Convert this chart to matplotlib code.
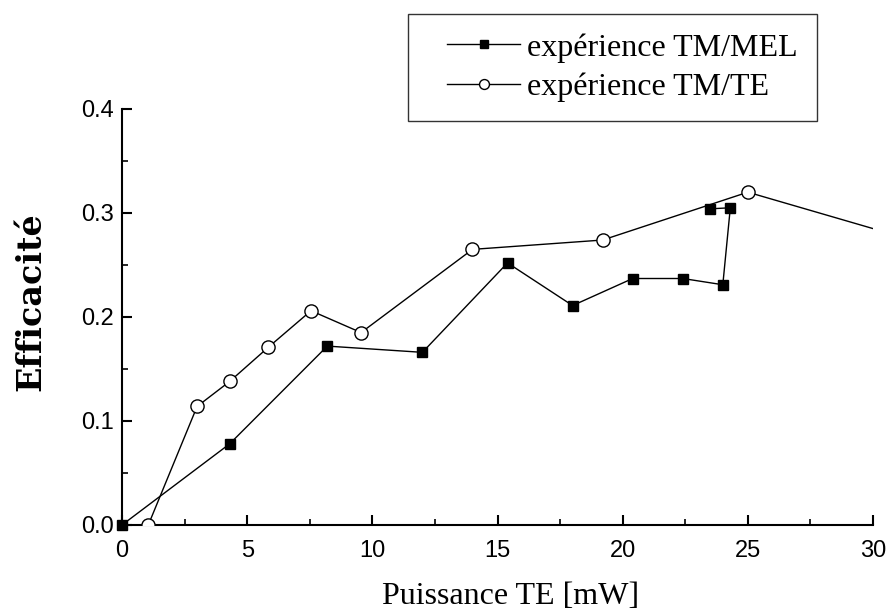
import numpy as np
import matplotlib
matplotlib.use('Agg')
import matplotlib.pyplot as plt
from matplotlib.ticker import MultipleLocator
from matplotlib.legend_handler import HandlerLine2D

# experience TM/MEL (filled squares)
mel_x = [0.0, 4.3, 8.2, 12.0, 15.4, 18.0, 20.4, 22.4, 24.0, 24.3, 23.5]
mel_y = [0.0, 0.078, 0.172, 0.166, 0.252, 0.211, 0.237, 0.237, 0.231, 0.305, 0.304]

# experience TM/TE (open circles), last point lies past the x range
te_x = [1.05, 3.0, 4.3, 5.85, 7.55, 9.55, 14.0, 19.2, 25.0, 32.0]
te_y = [0.0, 0.114, 0.138, 0.171, 0.206, 0.185, 0.265, 0.274, 0.320, 0.271]

fig = plt.figure(figsize=(8.9, 6.13), dpi=100)
ax = fig.add_axes([0.1371, 0.1436, 0.8438, 0.6786])

l1, = ax.plot(mel_x, mel_y, color='black', lw=1.0, marker='s', ms=7.5,
              mfc='black', mec='black', clip_on=False, zorder=3)
l2, = ax.plot(te_x, te_y, color='black', lw=1.0, marker='o', ms=9.5,
              mfc='white', mec='black', mew=1.0, zorder=3)

ax.set_xlim(0, 30)
ax.set_ylim(0, 0.4)
ax.xaxis.set_major_locator(MultipleLocator(5))
ax.xaxis.set_minor_locator(MultipleLocator(2.5))
ax.yaxis.set_major_locator(MultipleLocator(0.1))
ax.yaxis.set_minor_locator(MultipleLocator(0.05))
ax.yaxis.set_major_formatter(matplotlib.ticker.FormatStrFormatter('%.1f'))

for s in ['top', 'right']:
    ax.spines[s].set_visible(False)
for s in ['left', 'bottom']:
    ax.spines[s].set_linewidth(1.5)

ax.tick_params(which='major', direction='in', length=7, width=1.5,
               labelsize=17)
ax.tick_params(axis='x', which='major', pad=11)
ax.tick_params(axis='y', which='major', pad=6)
ax.tick_params(which='minor', direction='in', length=4.5, width=1.2)
for lab in ax.get_xticklabels() + ax.get_yticklabels():
    lab.set_family('Liberation Sans')

ax.set_xlabel('Puissance TE [mW]', family='Liberation Serif', fontsize=23)
ax.set_ylabel('Efficacité', family='DejaVu Serif', fontweight='bold',
              fontsize=24)
ax.xaxis.set_label_coords(0.518, -0.137)
ax.yaxis.set_label_coords(-0.100, 0.536)

hmap = {l1: HandlerLine2D(xpad=0.63), l2: HandlerLine2D(xpad=0.63)}
leg = fig.legend([l1, l2], ['expérience TM/MEL', 'expérience TM/TE'],
                 loc='upper left', bbox_to_anchor=(0.4584, 0.9772),
                 borderaxespad=0, prop={'family': 'Liberation Serif', 'size': 23},
                 frameon=True, fancybox=False, edgecolor='black',
                 handlelength=2.9, handletextpad=0.22, borderpad=0.6,
                 labelspacing=0.3, markerscale=0.75, handler_map=hmap)
leg.get_frame().set_linewidth(1.0)

fig.savefig('out.png', dpi=100)
